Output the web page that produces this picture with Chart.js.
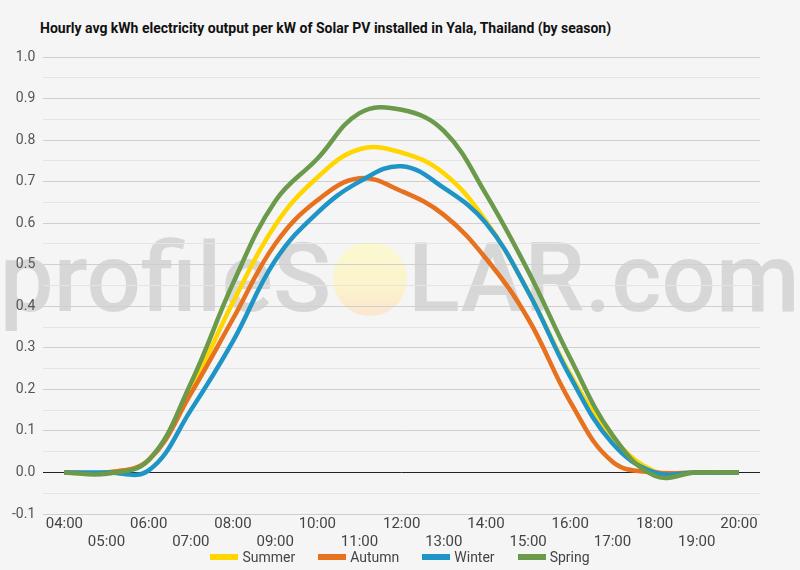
<!DOCTYPE html>
<html>
<head>
<meta charset="utf-8">
<script src="https://cdn.jsdelivr.net/npm/chart.js@4"></script>
<style>
  html, body { margin: 0; padding: 0; background: #f5f5f5; }
  #wrap { position: relative; width: 800px; height: 570px; background: #f5f5f5; }
  #title { position: absolute; left: 40px; top: 20px; font: bold 14px Roboto; line-height: 17px; color: #111; white-space: nowrap; }
  #solarChart { position: absolute; left: 0; top: 0; }
  #legend { position: absolute; left: 0; top: 548px; width: 800px; height: 18px;
            display: flex; justify-content: center; align-items: center; gap: 23px;
            font: 14px Roboto; color: #444; }
  #legend .item { display: flex; align-items: center; gap: 4px; }
  #legend .box { width: 28px; height: 6px; }
</style>
</head>
<body>
<div id="wrap">
  <div id="title">Hourly avg kWh electricity output per kW of Solar PV installed in Yala, Thailand (by season)</div>
  <canvas id="solarChart" width="800" height="552"></canvas>
  <div id="legend"></div>
</div>
<script>
const hours = ['04:00', '05:00', '06:00', '07:00', '08:00', '09:00', '10:00', '11:00', '12:00',
  '13:00', '14:00', '15:00', '16:00', '17:00', '18:00', '19:00', '20:00'];

const summer = [0, 0, 0.03, 0.20, 0.41, 0.595, 0.71, 0.778, 0.77, 0.72, 0.605, 0.436, 0.236, 0.085, 0.003, 0, 0];
const autumn = [0, 0, 0.03, 0.19, 0.37, 0.55, 0.655, 0.708, 0.677, 0.62, 0.515, 0.37, 0.17, 0.026, 0, 0, 0];
const winter = [0, 0, 0.005, 0.15, 0.316, 0.51, 0.625, 0.70, 0.737, 0.685, 0.60, 0.435, 0.23, 0.07, 0, 0, 0];
const spring = [0, -0.003, 0.03, 0.215, 0.455, 0.653, 0.755, 0.865, 0.873, 0.822, 0.67, 0.485, 0.275, 0.09, -0.008, 0, 0];

// подписи по оси X в два ряда
const xLabels = hours.map((h, i) => (i % 2 === 0 ? h : ['', h]));

// водяной знак profileSOLAR.com (под сеткой)
const watermark = {
    id: 'watermark',
    beforeDraw(chart) {
        const ctx = chart.ctx;
        ctx.save();
        ctx.font = '500 96px Roboto';
        ctx.fillStyle = 'rgba(195, 195, 195, 0.6)';
        ctx.textBaseline = 'alphabetic';
        ctx.textAlign = 'right';
        ctx.fillText('profileS', 331, 311);
        ctx.textAlign = 'left';
        ctx.fillText('LAR.com', 408, 311);
        const g = ctx.createLinearGradient(0, 242, 0, 316);
        g.addColorStop(0, '#fbf9d0');
        g.addColorStop(0.6, '#fbf3cc');
        g.addColorStop(1, '#fbe6d0');
        ctx.fillStyle = g;
        ctx.beginPath();
        ctx.ellipse(370, 279, 37, 37, 0, 0, Math.PI * 2);
        ctx.fill();
        ctx.restore();
    }
};

const makeSet = (label, data, color, order) => ({
    label: label,
    data: data,
    borderColor: color,
    backgroundColor: color,
    borderWidth: 4.5,
    pointRadius: 0,
    tension: 0.4,
    fill: false,
    order: order
});

const chart = new Chart(document.getElementById('solarChart'), {
    type: 'line',
    data: {
        labels: xLabels,
        datasets: [
            makeSet('Summer', summer, '#ffd600', 4),
            makeSet('Autumn', autumn, '#e6711f', 3),
            makeSet('Winter', winter, '#1e95c6', 2),
            makeSet('Spring', spring, '#6a9a4a', 1)
        ]
    },
    options: {
        responsive: false,
        animation: false,
        layout: { padding: { left: 4, right: 40, top: 57, bottom: 0 } },
        plugins: {
            legend: { display: false },
            title: { display: false },
            tooltip: { enabled: false }
        },
        scales: {
            x: {
                offset: true,
                grid: { display: false, drawTicks: false },
                border: { display: false },
                ticks: {
                    autoSkip: false,
                    maxRotation: 0,
                    minRotation: 0,
                    color: '#444',
                    font: { family: 'Roboto', size: 15 },
                    padding: 1
                }
            },
            y: {
                min: -0.1,
                max: 1.0,
                border: { display: false },
                grid: {
                    drawTicks: false,
                    color: (c) => {
                        const v = Math.round(c.tick.value * 100);
                        if (v === 0) return '#222';
                        return v % 10 === 0 ? '#cfcfcf' : '#e4e4e4';
                    },
                    lineWidth: 1
                },
                ticks: {
                    stepSize: 0.05,
                    color: '#555',
                    font: { family: 'Roboto', size: 14 },
                    padding: 8,
                    callback: (v) => {
                        const n = Math.round(v * 100);
                        return n % 10 === 0 ? (n / 100).toFixed(1) : '';
                    }
                }
            }
        }
    },
    plugins: [watermark]
});

// Легенда в HTML
const legendEl = document.getElementById('legend');
chart.data.datasets.forEach(ds => {
    const item = document.createElement('div');
    item.className = 'item';
    const box = document.createElement('span');
    box.className = 'box';
    box.style.background = ds.borderColor;
    const txt = document.createElement('span');
    txt.textContent = ds.label;
    item.appendChild(box);
    item.appendChild(txt);
    legendEl.appendChild(item);
});
</script>
</body>
</html>
